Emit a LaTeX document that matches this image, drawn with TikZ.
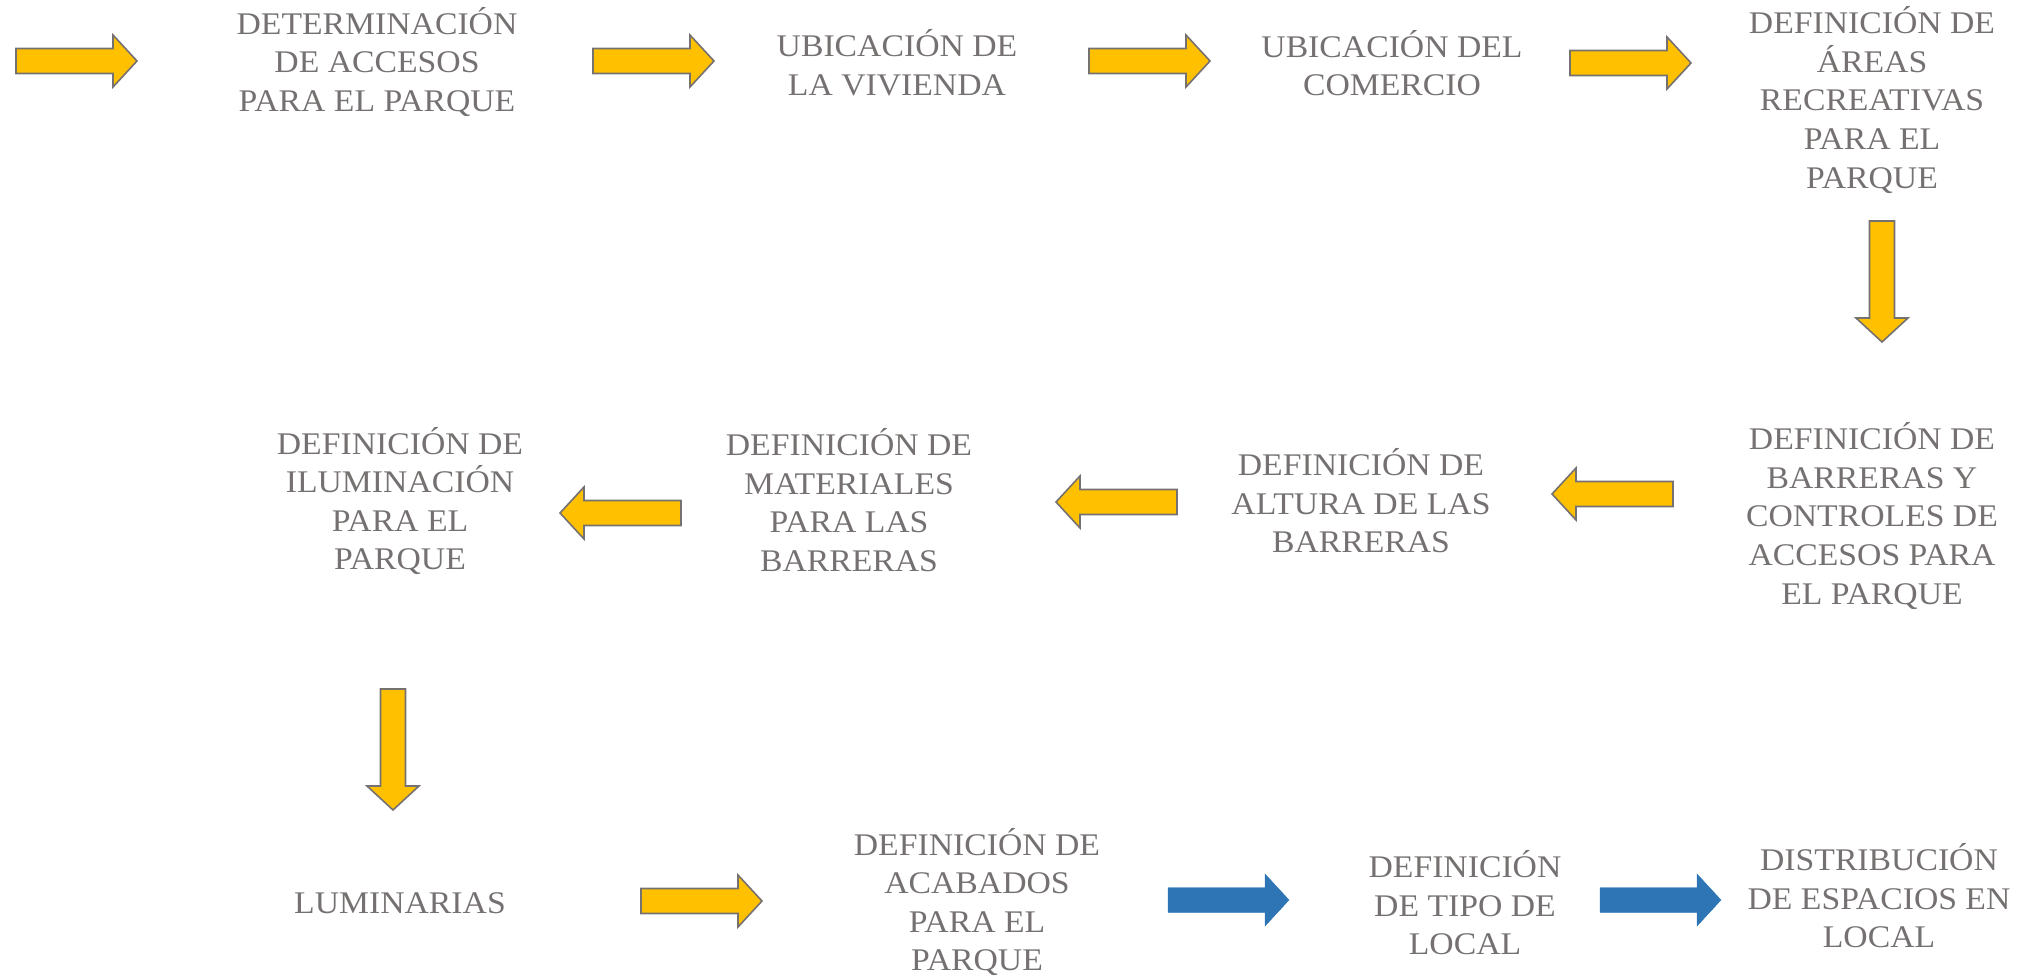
\documentclass[tikz,border=0pt]{standalone}
\usepackage{fontspec}
\setmainfont{Liberation Serif}[FakeStretch=1.07]
\definecolor{amarillo}{HTML}{FFC000}
\definecolor{borde}{HTML}{767171}
\definecolor{azul}{HTML}{2E75B6}
\definecolor{texto}{HTML}{767171}
\tikzset{
  flecha/.pic={\draw[pic actions] (0,-12.5)--(97,-12.5)--(97,-26)--(121,0)--(97,26)--(97,12.5)--(0,12.5)--cycle;},
  amarilla/.style={fill=amarillo,draw=borde,line width=1.6pt,line join=miter},
  azulada/.style={fill=azul,draw=azul,line width=0.4pt},
  paso/.style={text=texto,align=center,inner sep=0pt,font=\fontsize{31.5}{38.6}\selectfont}
}
\begin{document}
\begin{tikzpicture}[x=1pt,y=-1pt]
  \useasboundingbox (0,0) rectangle (2038,977);
  % flechas
  \foreach \x/\y in {16/61,593/61,1089/61,1570/63,641/901}
    \pic[amarilla] at (\x,\y) {flecha};
  \foreach \x/\y in {1673/494,1177/502,681/513}
    \pic[amarilla,rotate=180] at (\x,\y) {flecha};
  \foreach \x/\y in {1882/221,393/689}
    \pic[amarilla,rotate=-90] at (\x,\y) {flecha};
  \foreach \x/\y in {1168/900,1600/900}
    \pic[azulada] at (\x,\y) {flecha};
  % pasos
  \node[paso] (acc) at (377,62) {DETERMINACIÓN\\DE ACCESOS\\PARA EL PARQUE};
  \node[paso] (viv) at (897,63) {UBICACIÓN DE\\LA VIVIENDA};
  \node[paso] (com) at (1392,63) {UBICACIÓN DEL\\COMERCIO};
  \node[paso] (are) at (1872,100) {DEFINICIÓN DE\\ÁREAS\\RECREATIVAS\\PARA EL\\PARQUE};
  \node[paso] (bar) at (1872,516) {DEFINICIÓN DE\\BARRERAS Y\\CONTROLES DE\\ACCESOS PARA\\EL PARQUE};
  \node[paso] (alt) at (1361,501) {DEFINICIÓN DE\\ALTURA DE LAS\\BARRERAS};
  \node[paso] (mat) at (849,500) {DEFINICIÓN DE\\MATERIALES\\PARA LAS\\BARRERAS};
  \node[paso] (ilu) at (400,501) {DEFINICIÓN DE\\ILUMINACIÓN\\PARA EL\\PARQUE};
  \node[paso] (lum) at (400,903) {LUMINARIAS};
  \node[paso] (aca) at (977,902) {DEFINICIÓN DE\\ACABADOS\\PARA EL\\PARQUE};
  \node[paso] (tip) at (1465,903) {DEFINICIÓN\\DE TIPO DE\\LOCAL};
  \node[paso] (dis) at (1879,896) {DISTRIBUCIÓN\\DE ESPACIOS EN\\LOCAL};
\end{tikzpicture}
\end{document}
